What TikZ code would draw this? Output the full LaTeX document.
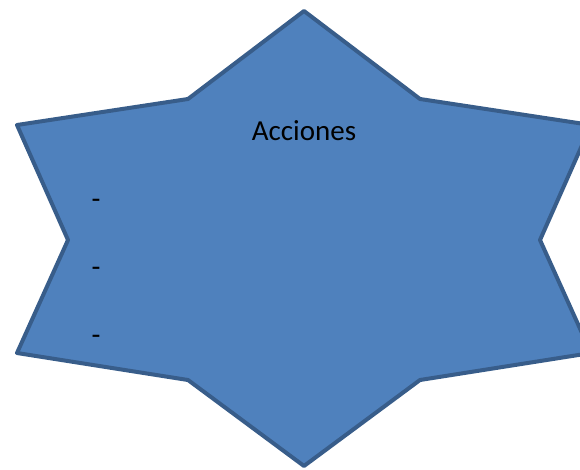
\documentclass[tikz,border=0pt]{standalone}
\usepackage{fontspec}
\setmainfont{Carlito}
\definecolor{starfill}{HTML}{4F81BD}
\definecolor{staredge}{HTML}{385D8A}
\tikzset{
  lbl/.style={font=\fontsize{29}{34}\selectfont,text=black,inner sep=0pt},
}
\begin{document}
\begin{tikzpicture}[x=1pt,y=-1pt]
\clip (0,0) rectangle (580,470);
\draw[line width=4pt,line join=round,staredge,fill=starfill]
  (304,11) -- (420,99) -- (591,125) -- (540,240) -- (591,353) -- (420,380)
  -- (304,466) -- (188,380) -- (17,353) -- (68,240) -- (17,125) -- (188,99) -- cycle;
\node[lbl] (title) at (304,131) {Acciones};
\node[lbl] (dasha) at (96,204) {-};
\node[lbl] (dashb) at (96,272) {-};
\node[lbl] (dashc) at (96,340) {-};
\end{tikzpicture}
\end{document}
